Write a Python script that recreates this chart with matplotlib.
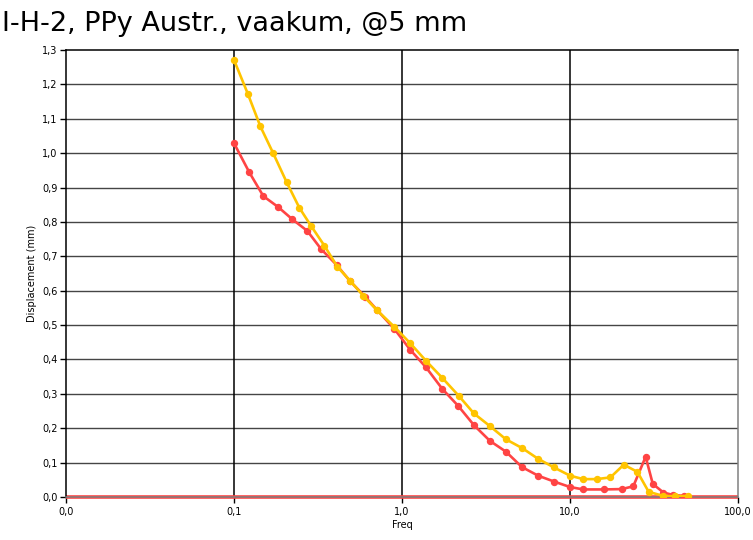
import matplotlib
matplotlib.use("Agg")
import matplotlib.pyplot as plt
from matplotlib.ticker import FixedLocator, FuncFormatter, NullLocator

# Data
freq_yellow = [0.1, 0.121, 0.1435, 0.171, 0.206, 0.245, 0.287, 0.345, 0.412, 0.491,
               0.589, 0.707, 0.90, 1.12, 1.39, 1.74, 2.17, 2.68, 3.34, 4.15, 5.2,
               6.46, 8.03, 10.0, 12.0, 14.4, 17.4, 20.9, 25.2, 29.4, 36.0, 42.0, 50.5]
disp_yellow = [1.271, 1.172, 1.078, 1.0, 0.915, 0.841, 0.789, 0.731, 0.670, 0.629,
               0.585, 0.544, 0.495, 0.447, 0.396, 0.346, 0.295, 0.243, 0.206, 0.168, 0.142,
               0.111, 0.086, 0.062, 0.052, 0.052, 0.057, 0.094, 0.073, 0.015, 0.003, 0.002, 0.003]

freq_red = [0.1, 0.1234, 0.1495, 0.1835, 0.222, 0.273, 0.33, 0.408, 0.49, 0.602,
            0.707, 0.90, 1.12, 1.39, 1.74, 2.16, 2.68, 3.34, 4.15, 5.18, 6.46,
            8.03, 10.0, 12.0, 15.9, 20.3, 23.8, 28.2, 31.1, 36.0, 41.0, 48.0]
disp_red = [1.029, 0.944, 0.875, 0.843, 0.808, 0.774, 0.721, 0.675, 0.628, 0.583,
            0.545, 0.489, 0.428, 0.377, 0.314, 0.265, 0.209, 0.163, 0.132, 0.087, 0.062,
            0.045, 0.029, 0.022, 0.022, 0.023, 0.031, 0.117, 0.038, 0.013, 0.006, 0.003]

baseline_x = [0.01, 100.0]
baseline_y = [0.0, 0.0]

x_ticks = [0.01, 0.1, 1.0, 10.0, 100.0]
x_tick_labels = ["0,0", "0,1", "1,0", "10,0", "100,0"]
y_ticks = [i / 10 for i in range(0, 14)]

title = "I-H-2, PPy Austr., vaakum, @5 mm"

RED = "#FF4444"
YELLOW = "#FFC400"

fig = plt.figure(figsize=(7.53, 5.40), dpi=100)
ax = fig.add_axes([66 / 753, 1 - 497 / 540, (738 - 66) / 753, (497 - 50) / 540])

ax.set_xscale("log")
ax.set_xlim(0.01, 100)
ax.set_ylim(0, 1.3)

ax.xaxis.set_major_locator(FixedLocator(x_ticks))
ax.xaxis.set_minor_locator(NullLocator())
ax.set_xticklabels(x_tick_labels)
ax.yaxis.set_major_locator(FixedLocator(y_ticks))
ax.yaxis.set_major_formatter(FuncFormatter(lambda v, p: f"{v:.1f}".replace(".", ",")))

for y in y_ticks[1:-1]:
    ax.axhline(y, color="#454545", lw=1.0, zorder=1)
for x in x_ticks[1:-1]:
    ax.axvline(x, color="black", lw=1.1, zorder=1)

ax.plot(baseline_x, baseline_y, color=RED, lw=2.6, zorder=2, solid_capstyle="butt", clip_on=False)
ax.plot(freq_red, disp_red, color=RED, lw=1.9, marker="o", ms=4.3, zorder=3)
ax.plot(freq_yellow, disp_yellow, color=YELLOW, lw=1.9, marker="o", ms=4.3, zorder=4)

for side in ["left", "top"]:
    ax.spines[side].set_color("black")
    ax.spines[side].set_linewidth(1.1)
for side in ["right", "bottom"]:
    ax.spines[side].set_color("#808080")
    ax.spines[side].set_linewidth(1.1)

ax.tick_params(axis="both", direction="out", length=4, width=1, labelsize=7, colors="black", pad=2)
ax.tick_params(axis="x", pad=3)

ax.set_xlabel("Freq", fontsize=7, labelpad=2)
ax.set_ylabel("Displacement (mm)", fontsize=7, labelpad=4)

fig.text(0.002, 1 - 31 / 540, title, fontsize=19.5, ha="left", va="baseline")

fig.savefig("out.png", dpi=100, facecolor="white")
